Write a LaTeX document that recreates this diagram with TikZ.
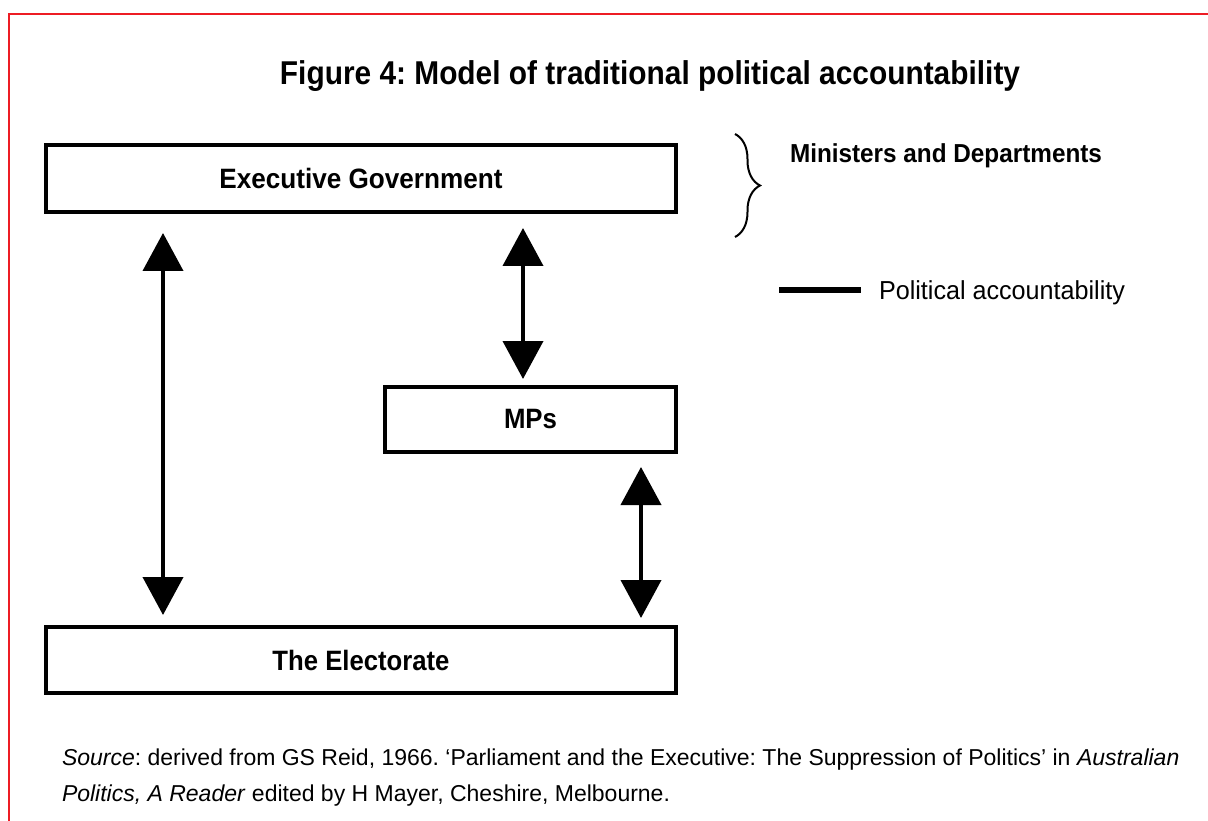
\documentclass[tikz,border=0pt]{standalone}
\usepackage{fontspec}
\setmainfont{Liberation Sans}
\usetikzlibrary{arrows.meta,decorations.pathreplacing}
\definecolor{framered}{RGB}{237,28,36}
\frenchspacing
\begin{document}
\begin{tikzpicture}[x=1pt,y=-1pt,
  box/.style={draw, line width=4pt, outer sep=0pt, inner sep=0pt,
    font=\fontsize{28}{32}\selectfont\bfseries},
  acc/.style={line width=4pt,
    {Triangle[width=40pt,length=38pt]}-{Triangle[width=40pt,length=38pt]}},
  lbl/.style={inner sep=0pt, outer sep=0pt},
]
\useasboundingbox (0,0) rectangle (1208,821);
\fill[white] (0,0) rectangle (1208,821);

% red frame
\coordinate (fb) at (9,822);
\coordinate (fc) at (9,14);
\coordinate (fr) at (1209,14);
\draw[framered, line width=2.5pt] (fb) -- (fc) -- (fr);

% title
\node[lbl, anchor=base, font=\fontsize{33}{40}\selectfont\bfseries] (title) at (650,85)
  {\resizebox{740pt}{\height}{Figure 4: Model of traditional political accountability}};

% boxes
\node[box, minimum width=630pt, minimum height=67pt] (exec) at (361,178.5)
  {\resizebox{283pt}{\height}{Executive Government}};
\node[box, minimum width=291pt, minimum height=65pt] (mps) at (530.5,419.5)
  {\resizebox{53pt}{\height}{MPs}};
\node[box, minimum width=630pt, minimum height=66pt] (elec) at (361,660)
  {\resizebox{177pt}{\height}{The Electorate}};

% arrows
\draw[acc, shorten <=21pt, shorten >=12pt]
  ([xshift=117pt]exec.south west) -- ([xshift=117pt]elec.north west);
\draw[acc, shorten <=16pt, shorten >=8pt]
  ([xshift=138pt]mps.north west |- exec.south) -- ([xshift=138pt]mps.north west);
\draw[acc, shorten <=15pt, shorten >=9pt]
  ([xshift=256pt]mps.south west) -- ([xshift=256pt]mps.south west |- elec.north);

% brace
\coordinate (brt) at (735,134);
\coordinate (brb) at (735,237);
\draw[line width=2pt, decorate, decoration={brace, amplitude=25pt}] (brt) -- (brb);
\node[lbl, anchor=base west, font=\fontsize{26}{30}\selectfont\bfseries] (mind) at (790,163)
  {\resizebox{312pt}{\height}{Ministers and Departments}};

% legend
\coordinate (lg1) at (779,290);
\coordinate (lg2) at (861,290);
\draw[line width=5pt] (lg1) -- (lg2);
\node[lbl, anchor=base west, font=\fontsize{26}{30}\selectfont] (pol) at (879,299)
  {\resizebox{246pt}{\height}{Political accountability}};

% source
\node[lbl, anchor=base west, font=\fontsize{23}{26}\selectfont] (src1) at (62,765)
  {\textit{Source}: derived from GS Reid, 1966. ‘Parliament and the Executive: The Suppression of Politics’ in \textit{Australian}};
\node[lbl, anchor=base west, font=\fontsize{23}{26}\selectfont] (src2) at (62,801)
  {\textit{Politics, A Reader} edited by H Mayer, Cheshire, Melbourne.};
\end{tikzpicture}
\end{document}
